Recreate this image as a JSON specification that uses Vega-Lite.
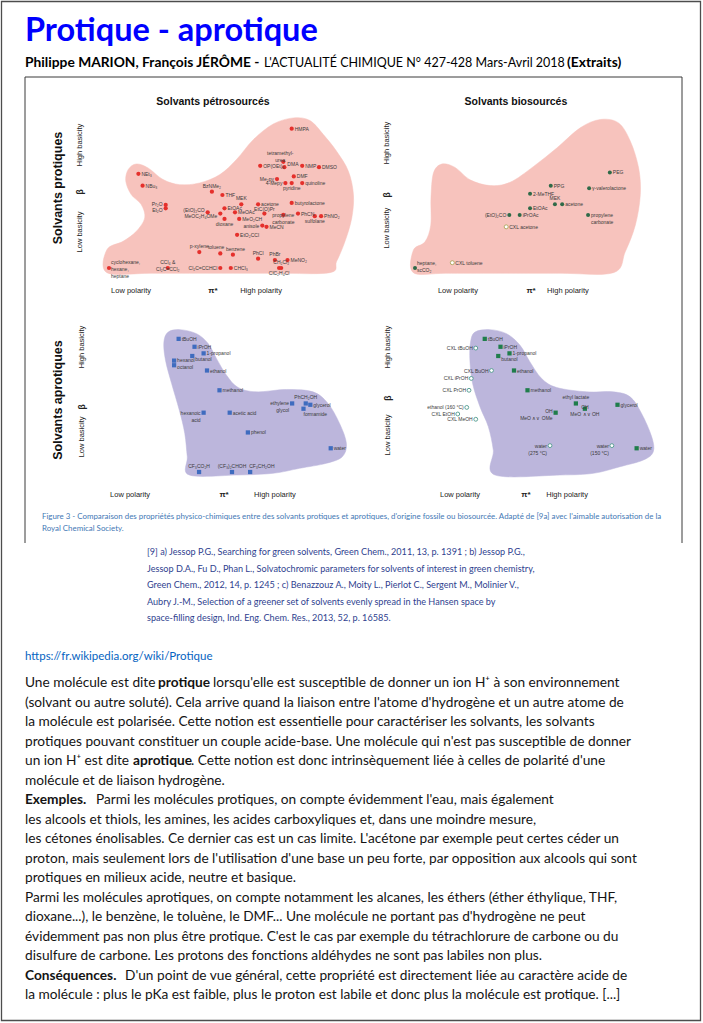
{
"$schema":"https://vega.github.io/schema/vega-lite/v6.json",
"width":703,"height":1023,
"autosize":{"type":"fit","contains":"padding"},
"padding":0,
"background":"#ffffff",
"config":{"view":{"stroke":null},"axis":{"disable":true},"legend":{"disable":true}},
"datasets":{
"page":[
{"role":"title","line":1,"col":0,"text":"Protique - aprotique"},
{"role":"authors","line":2,"col":0,"text":"Philippe MARION, François JÉRÔME -"},
{"role":"journal","line":2,"col":3,"text":"L'ACTUALITÉ CHIMIQUE N° 427-428 Mars-Avril 2018"},
{"role":"note","line":2,"col":4,"text":"(Extraits)"},
{"role":"caption","line":3,"col":1,"text":"Figure 3 - Comparaison des propriétés physico-chimiques entre des solvants protiques et aprotiques, d'origine fossile ou biosourcée. Adapté de [9a] avec l'aimable autorisation de la"},
{"role":"caption","line":4,"col":1,"text":"Royal Chemical Society."},
{"role":"reference","line":5,"col":2,"text":"[9] a) Jessop P.G., Searching for green solvents, Green Chem., 2011, 13, p. 1391 ; b) Jessop P.G.,"},
{"role":"reference","line":6,"col":2,"text":"Jessop D.A., Fu D., Phan L., Solvatochromic parameters for solvents of interest in green chemistry,"},
{"role":"reference","line":7,"col":2,"text":"Green Chem., 2012, 14, p. 1245 ; c) Benazzouz A., Moity L., Pierlot C., Sergent M., Molinier V.,"},
{"role":"reference","line":8,"col":2,"text":"Aubry J.-M., Selection of a greener set of solvents evenly spread in the Hansen space by"},
{"role":"reference","line":9,"col":2,"text":"space-filling design, Ind. Eng. Chem. Res., 2013, 52, p. 16585."},
{"role":"link","line":11,"col":0,"text":"https://fr.wikipedia.org/wiki/Protique"},
{"role":"body","line":13,"col":0,"text":"Une molécule est dite"},
{"role":"emphasis","line":13,"col":5,"text":"protique"},
{"role":"body","line":13,"col":6,"text":"lorsqu'elle est susceptible de donner un ion H⁺ à son environnement"},
{"role":"body","line":14,"col":0,"text":"(solvant ou autre soluté). Cela arrive quand la liaison entre l'atome d'hydrogène et un autre atome de"},
{"role":"body","line":15,"col":0,"text":"la molécule est polarisée. Cette notion est essentielle pour caractériser les solvants, les solvants"},
{"role":"body","line":16,"col":0,"text":"protiques pouvant constituer un couple acide-base. Une molécule qui n'est pas susceptible de donner"},
{"role":"body","line":17,"col":0,"text":"un ion H⁺ est dite"},
{"role":"emphasis","line":17,"col":7,"text":"aprotique"},
{"role":"body","line":17,"col":8,"text":". Cette notion est donc intrinsèquement liée à celles de polarité d'une"},
{"role":"body","line":18,"col":0,"text":"molécule et de liaison hydrogène."},
{"role":"emphasis","line":19,"col":0,"text":"Exemples."},
{"role":"body","line":19,"col":9,"text":"Parmi les molécules protiques, on compte évidemment l'eau, mais également"},
{"role":"body","line":20,"col":0,"text":"les alcools et thiols, les amines, les acides carboxyliques et, dans une moindre mesure,"},
{"role":"body","line":21,"col":0,"text":"les cétones énolisables. Ce dernier cas est un cas limite. L'acétone par exemple peut certes céder un"},
{"role":"body","line":22,"col":0,"text":"proton, mais seulement lors de l'utilisation d'une base un peu forte, par opposition aux alcools qui sont"},
{"role":"body","line":23,"col":0,"text":"protiques en milieux acide, neutre et basique."},
{"role":"body","line":24,"col":0,"text":"Parmi les molécules aprotiques, on compte notamment les alcanes, les éthers (éther éthylique, THF,"},
{"role":"body","line":25,"col":0,"text":"dioxane...), le benzène, le toluène, le DMF... Une molécule ne portant pas d'hydrogène ne peut"},
{"role":"body","line":26,"col":0,"text":"évidemment pas non plus être protique. C'est le cas par exemple du tétrachlorure de carbone ou du"},
{"role":"body","line":27,"col":0,"text":"disulfure de carbone. Les protons des fonctions aldéhydes ne sont pas labiles non plus."},
{"role":"emphasis","line":28,"col":0,"text":"Conséquences."},
{"role":"body","line":28,"col":10,"text":"D'un point de vue général, cette propriété est directement liée au caractère acide de"},
{"role":"body","line":29,"col":0,"text":"la molécule : plus le pKa est faible, plus le proton est labile et donc plus la molécule est protique. [...]"}
],
"ticks":[{"t":0},{"t":0.1},{"t":0.2},{"t":0.3},{"t":0.4},{"t":0.5},{"t":0.6},{"t":0.7},{"t":0.8},{"t":0.9},{"t":1},{"t":1.1}],
"annot":[
{"panel":"P1","text":"Solvants pétrosourcés","pi":0.495,"beta":1.251},
{"panel":"P1","text":"Solvants protiques","pi":-0.243,"beta":0.603},
{"panel":"P1","text":"High basicity","pi":-0.138,"beta":0.927},
{"panel":"P1","text":"β","pi":-0.138,"beta":0.573},
{"panel":"P1","text":"Low basicity","pi":-0.138,"beta":0.271},
{"panel":"P1","text":"Low polarity","pi":0.105,"beta":-0.173},
{"panel":"P1","text":"π*","pi":0.495,"beta":-0.173},
{"panel":"P1","text":"High polarity","pi":0.724,"beta":-0.173},
{"panel":"P2","text":"Solvants biosourcés","pi":0.487,"beta":1.251},
{"panel":"P2","text":"High basicity","pi":-0.135,"beta":0.942},
{"panel":"P2","text":"β","pi":-0.135,"beta":0.55},
{"panel":"P2","text":"Low basicity","pi":-0.135,"beta":0.30},
{"panel":"P2","text":"Low polarity","pi":0.207,"beta":-0.173},
{"panel":"P2","text":"π*","pi":0.56,"beta":-0.173},
{"panel":"P2","text":"High polarity","pi":0.738,"beta":-0.173},
{"panel":"P3","text":"Solvants aprotiques","pi":-0.111,"beta":0.546},
{"panel":"P3","text":"High basicity","pi":-0.006,"beta":0.948},
{"panel":"P3","text":"β","pi":-0.006,"beta":0.493},
{"panel":"P3","text":"Low basicity","pi":-0.006,"beta":0.266},
{"panel":"P3","text":"Low polarity","pi":0.206,"beta":-0.175},
{"panel":"P3","text":"π*","pi":0.62,"beta":-0.175},
{"panel":"P3","text":"High polarity","pi":0.844,"beta":-0.175},
{"panel":"P4","text":"High basicity","pi":-0.02,"beta":0.948},
{"panel":"P4","text":"β","pi":-0.02,"beta":0.561},
{"panel":"P4","text":"Low basicity","pi":-0.02,"beta":0.281},
{"panel":"P4","text":"Low polarity","pi":0.3,"beta":-0.175},
{"panel":"P4","text":"π*","pi":0.593,"beta":-0.175},
{"panel":"P4","text":"High polarity","pi":0.776,"beta":-0.175}
],
"blobs":[
{"panel":"P1","i":1,"pi":-0.01,"beta":-0.035},{"panel":"P1","i":2,"pi":-0.01,"beta":0.138},{"panel":"P1","i":3,"pi":0.067,"beta":0.201},{"panel":"P1","i":4,"pi":0.13,"beta":0.276},{"panel":"P1","i":5,"pi":0.17,"beta":0.377},{"panel":"P1","i":6,"pi":0.154,"beta":0.477},{"panel":"P1","i":7,"pi":0.106,"beta":0.553},{"panel":"P1","i":8,"pi":0.08,"beta":0.653},{"panel":"P1","i":9,"pi":0.091,"beta":0.741},{"panel":"P1","i":10,"pi":0.13,"beta":0.784},{"panel":"P1","i":11,"pi":0.186,"beta":0.754},{"panel":"P1","i":12,"pi":0.258,"beta":0.666},{"panel":"P1","i":13,"pi":0.337,"beta":0.628},{"panel":"P1","i":14,"pi":0.432,"beta":0.641},{"panel":"P1","i":15,"pi":0.528,"beta":0.704},{"panel":"P1","i":16,"pi":0.607,"beta":0.817},{"panel":"P1","i":17,"pi":0.687,"beta":0.967},{"panel":"P1","i":18,"pi":0.782,"beta":1.085},{"panel":"P1","i":19,"pi":0.878,"beta":1.131},{"panel":"P1","i":20,"pi":0.957,"beta":1.111},{"panel":"P1","i":21,"pi":1.021,"beta":1.005},{"panel":"P1","i":22,"pi":1.084,"beta":0.879},{"panel":"P1","i":23,"pi":1.14,"beta":0.729},{"panel":"P1","i":24,"pi":1.164,"beta":0.553},{"panel":"P1","i":25,"pi":1.156,"beta":0.377},{"panel":"P1","i":26,"pi":1.124,"beta":0.201},{"panel":"P1","i":27,"pi":1.084,"beta":0.05},{"panel":"P1","i":28,"pi":1.052,"beta":-0.035},{"panel":"P1","i":29,"pi":0.8,"beta":-0.04},{"panel":"P1","i":30,"pi":0.5,"beta":-0.04},{"panel":"P1","i":31,"pi":0.2,"beta":-0.04},
{"panel":"P2","i":1,"pi":-0.008,"beta":-0.035},{"panel":"P2","i":2,"pi":-0.008,"beta":0.134},{"panel":"P2","i":3,"pi":0.048,"beta":0.197},{"panel":"P2","i":4,"pi":0.076,"beta":0.323},{"panel":"P2","i":5,"pi":0.077,"beta":0.525},{"panel":"P2","i":6,"pi":0.089,"beta":0.715},{"panel":"P2","i":7,"pi":0.129,"beta":0.783},{"panel":"P2","i":8,"pi":0.193,"beta":0.758},{"panel":"P2","i":9,"pi":0.266,"beta":0.664},{"panel":"P2","i":10,"pi":0.362,"beta":0.621},{"panel":"P2","i":11,"pi":0.459,"beta":0.646},{"panel":"P2","i":12,"pi":0.572,"beta":0.765},{"panel":"P2","i":13,"pi":0.684,"beta":0.904},{"panel":"P2","i":14,"pi":0.797,"beta":1.056},{"panel":"P2","i":15,"pi":0.894,"beta":1.119},{"panel":"P2","i":16,"pi":0.982,"beta":1.093},{"panel":"P2","i":17,"pi":1.039,"beta":0.955},{"panel":"P2","i":18,"pi":1.079,"beta":0.753},{"panel":"P2","i":19,"pi":1.087,"beta":0.551},{"panel":"P2","i":20,"pi":1.063,"beta":0.323},{"panel":"P2","i":21,"pi":1.014,"beta":0.121},{"panel":"P2","i":22,"pi":0.958,"beta":-0.035},{"panel":"P2","i":23,"pi":0.7,"beta":-0.04},{"panel":"P2","i":24,"pi":0.4,"beta":-0.04},{"panel":"P2","i":25,"pi":0.15,"beta":-0.04},
{"panel":"P3","i":1,"pi":0.374,"beta":1.062},{"panel":"P3","i":2,"pi":0.426,"beta":1.08},{"panel":"P3","i":3,"pi":0.499,"beta":1.049},{"panel":"P3","i":4,"pi":0.55,"beta":0.974},{"panel":"P3","i":5,"pi":0.587,"beta":0.86},{"panel":"P3","i":6,"pi":0.631,"beta":0.734},{"panel":"P3","i":7,"pi":0.682,"beta":0.641},{"panel":"P3","i":8,"pi":0.763,"beta":0.608},{"panel":"P3","i":9,"pi":0.895,"beta":0.626},{"panel":"P3","i":10,"pi":1.012,"beta":0.608},{"panel":"P3","i":11,"pi":1.078,"beta":0.52},{"panel":"P3","i":12,"pi":1.129,"beta":0.368},{"panel":"P3","i":13,"pi":1.159,"beta":0.217},{"panel":"P3","i":14,"pi":1.141,"beta":0.116},{"panel":"P3","i":15,"pi":1.071,"beta":0.066},{"panel":"P3","i":16,"pi":0.953,"beta":0.028},{"panel":"P3","i":17,"pi":0.836,"beta":-0.01},{"panel":"P3","i":18,"pi":0.675,"beta":-0.023},{"panel":"P3","i":19,"pi":0.467,"beta":-0.023},{"panel":"P3","i":20,"pi":0.458,"beta":0.116},{"panel":"P3","i":21,"pi":0.447,"beta":0.293},{"panel":"P3","i":22,"pi":0.423,"beta":0.469},{"panel":"P3","i":23,"pi":0.389,"beta":0.671},{"panel":"P3","i":24,"pi":0.362,"beta":0.848},{"panel":"P3","i":25,"pi":0.355,"beta":0.986},
{"panel":"P4","i":1,"pi":0.367,"beta":1.062},{"panel":"P4","i":2,"pi":0.433,"beta":1.08},{"panel":"P4","i":3,"pi":0.507,"beta":1.049},{"panel":"P4","i":4,"pi":0.567,"beta":0.961},{"panel":"P4","i":5,"pi":0.611,"beta":0.835},{"panel":"P4","i":6,"pi":0.663,"beta":0.709},{"panel":"P4","i":7,"pi":0.73,"beta":0.641},{"panel":"P4","i":8,"pi":0.863,"beta":0.608},{"panel":"P4","i":9,"pi":0.981,"beta":0.608},{"panel":"P4","i":10,"pi":1.056,"beta":0.57},{"panel":"P4","i":11,"pi":1.107,"beta":0.444},{"panel":"P4","i":12,"pi":1.152,"beta":0.267},{"panel":"P4","i":13,"pi":1.159,"beta":0.154},{"panel":"P4","i":14,"pi":1.115,"beta":0.091},{"panel":"P4","i":15,"pi":1.011,"beta":0.04},{"panel":"P4","i":16,"pi":0.893,"beta":-0.01},{"panel":"P4","i":17,"pi":0.744,"beta":-0.023},{"panel":"P4","i":18,"pi":0.456,"beta":-0.023},{"panel":"P4","i":19,"pi":0.448,"beta":0.166},{"panel":"P4","i":20,"pi":0.426,"beta":0.343},{"panel":"P4","i":21,"pi":0.389,"beta":0.494},{"panel":"P4","i":22,"pi":0.356,"beta":0.671},{"panel":"P4","i":23,"pi":0.344,"beta":0.848},{"panel":"P4","i":24,"pi":0.347,"beta":0.986}
],
"petro1":[
{"name":"HMPA","pi":0.87,"beta":1.05},
{"name":"tetramethyl-\nurea","pi":0.83,"beta":0.80},
{"name":"OP(OEt)₃","pi":0.72,"beta":0.77},
{"name":"DMA","pi":0.835,"beta":0.76},
{"name":"NMP","pi":0.92,"beta":0.77},
{"name":"DMSO","pi":1.0,"beta":0.76},
{"name":"DMF","pi":0.88,"beta":0.69},
{"name":"Me₂py","pi":0.80,"beta":0.67},
{"name":"4-Mepy","pi":0.84,"beta":0.64},
{"name":"pyridine","pi":0.87,"beta":0.64},
{"name":"quinoline","pi":0.92,"beta":0.64},
{"name":"NEt₃","pi":0.14,"beta":0.71},
{"name":"NBu₃","pi":0.16,"beta":0.62},
{"name":"BzNMe₂","pi":0.49,"beta":0.575},
{"name":"THF","pi":0.54,"beta":0.55},
{"name":"Pr₂O","pi":0.27,"beta":0.475},
{"name":"Et₂O","pi":0.27,"beta":0.45},
{"name":"EtOAc","pi":0.55,"beta":0.45},
{"name":"MEK","pi":0.63,"beta":0.48},
{"name":"acetone","pi":0.71,"beta":0.48},
{"name":"butyrolactone","pi":0.87,"beta":0.49},
{"name":"(EtO)₂CO","pi":0.47,"beta":0.42},
{"name":"MeOC₂H₄OMe","pi":0.53,"beta":0.41},
{"name":"dioxane","pi":0.55,"beta":0.37},
{"name":"MeOAc","pi":0.60,"beta":0.42},
{"name":"EtC(O)Pr","pi":0.74,"beta":0.41},
{"name":"propylene\ncarbonate","pi":0.83,"beta":0.40},
{"name":"PhCN","pi":0.90,"beta":0.41},
{"name":"sulfolane","pi":0.98,"beta":0.39},
{"name":"PhNO₂","pi":1.01,"beta":0.39},
{"name":"MeO₂CH","pi":0.62,"beta":0.37},
{"name":"anisole","pi":0.73,"beta":0.32},
{"name":"MeCN","pi":0.75,"beta":0.31},
{"name":"EtO₂CCl","pi":0.61,"beta":0.25},
{"name":"p-xylene","pi":0.43,"beta":0.12},
{"name":"toluene","pi":0.53,"beta":0.11},
{"name":"benzene","pi":0.59,"beta":0.10},
{"name":"PhCl","pi":0.71,"beta":0.07},
{"name":"PhBr","pi":0.79,"beta":0.06},
{"name":"MeNO₂","pi":0.85,"beta":0.06},
{"name":"CH₂Cl₂","pi":0.82,"beta":0.0},
{"name":"ClC₂H₄Cl","pi":0.81,"beta":0.0},
{"name":"cyclohexane,\nhexane,\nheptane","pi":0.0,"beta":0.0},
{"name":"CCl₄ &\nCl₂C=CCl₂","pi":0.28,"beta":0.0},
{"name":"Cl₂C=CCHCl","pi":0.53,"beta":0.0},
{"name":"CHCl₃","pi":0.58,"beta":0.0}
],
"bio1":[
{"name":"PEG","pi":0.94,"beta":0.72,"state":"ambient"},
{"name":"γ-valerolactone","pi":0.84,"beta":0.60,"state":"ambient"},
{"name":"PPG","pi":0.655,"beta":0.62,"state":"ambient"},
{"name":"2-MeTHF","pi":0.555,"beta":0.56,"state":"ambient"},
{"name":"MEK","pi":0.675,"beta":0.48,"state":"ambient"},
{"name":"acetone","pi":0.71,"beta":0.48,"state":"ambient"},
{"name":"EtOAc","pi":0.555,"beta":0.45,"state":"ambient"},
{"name":"(EtO)₂CO","pi":0.455,"beta":0.40,"state":"ambient"},
{"name":"iPrOAc","pi":0.505,"beta":0.40,"state":"ambient"},
{"name":"propylene\ncarbonate","pi":0.835,"beta":0.40,"state":"ambient"},
{"name":"CXL acetone","pi":0.44,"beta":0.31,"state":"modified"},
{"name":"CXL toluene","pi":0.18,"beta":0.04,"state":"modified"},
{"name":"heptane,\nscCO₂","pi":0.0,"beta":0.0,"state":"ambient"}
],
"petro2":[
{"name":"tBuOH","pi":0.42,"beta":1.01},
{"name":"iPrOH","pi":0.49,"beta":0.95},
{"name":"1-propanol","pi":0.53,"beta":0.90},
{"name":"butanol","pi":0.48,"beta":0.88},
{"name":"hexanol","pi":0.40,"beta":0.845},
{"name":"octanol","pi":0.40,"beta":0.81},
{"name":"ethanol","pi":0.545,"beta":0.77},
{"name":"methanol","pi":0.60,"beta":0.62},
{"name":"hexanoic\nacid","pi":0.53,"beta":0.45},
{"name":"acetic acid","pi":0.645,"beta":0.45},
{"name":"ethylene\nglycol","pi":0.92,"beta":0.52},
{"name":"PhCH₂OH","pi":0.98,"beta":0.52},
{"name":"glycerol","pi":1.0,"beta":0.51},
{"name":"formamide","pi":0.97,"beta":0.48},
{"name":"phenol","pi":0.725,"beta":0.30},
{"name":"water","pi":1.09,"beta":0.18},
{"name":"CF₃CO₂H","pi":0.51,"beta":0.0},
{"name":"(CF₃)₂CHOH","pi":0.655,"beta":0.0},
{"name":"CF₃CH₂OH","pi":0.735,"beta":0.0}
],
"bio2":[
{"name":"tBuOH","pi":0.41,"beta":1.01,"state":"ambient"},
{"name":"iPrOH","pi":0.48,"beta":0.95,"state":"ambient"},
{"name":"1-propanol","pi":0.52,"beta":0.90,"state":"ambient"},
{"name":"butanol","pi":0.47,"beta":0.88,"state":"ambient"},
{"name":"ethanol","pi":0.54,"beta":0.77,"state":"ambient"},
{"name":"methanol","pi":0.60,"beta":0.62,"state":"ambient"},
{"name":"ethyl lactate","pi":0.815,"beta":0.52,"state":"ambient"},
{"name":"OH\nMeO ∧∨ OMe","pi":0.725,"beta":0.45,"state":"ambient"},
{"name":"OH\nMeO ∧∨ OH","pi":0.855,"beta":0.48,"state":"ambient"},
{"name":"glycerol","pi":1.0,"beta":0.51,"state":"ambient"},
{"name":"water","pi":1.085,"beta":0.18,"state":"ambient"},
{"name":"water\n(275 °C)","pi":0.70,"beta":0.20,"state":"modified"},
{"name":"water\n(150 °C)","pi":0.975,"beta":0.20,"state":"modified"},
{"name":"CXL tBuOH","pi":0.37,"beta":0.94,"state":"modified"},
{"name":"CXL BuOH","pi":0.44,"beta":0.77,"state":"modified"},
{"name":"CXL iPrOH","pi":0.35,"beta":0.71,"state":"modified"},
{"name":"CXL PrOH","pi":0.34,"beta":0.62,"state":"modified"},
{"name":"ethanol (160 °C)","pi":0.33,"beta":0.49,"state":"modified"},
{"name":"CXL EtOH","pi":0.29,"beta":0.44,"state":"modified"},
{"name":"CXL MeOH","pi":0.37,"beta":0.40,"state":"modified"}
]
},
"layer":[
{"data":{"values":[{}]},"mark":{"type":"rect","filled":false,"stroke":"#4d4d4d","strokeWidth":1.3},
 "encoding":{"x":{"datum":0,"type":"quantitative","scale":{"domain":[0,1],"range":[1.5,700.5],"nice":false,"zero":false}},"x2":{"datum":1},
 "y":{"datum":0,"type":"quantitative","scale":{"domain":[0,1],"range":[1.5,1020.5],"nice":false,"zero":false}},"y2":{"datum":1}}},
{"data":{"values":[{}]},
 "encoding":{"x":{"datum":0,"type":"quantitative","scale":{"domain":[0,1],"range":[25,682],"nice":false,"zero":false}},"y":{"datum":0,"type":"quantitative","scale":{"domain":[0,1],"range":[77,543],"nice":false,"zero":false}}},
 "layer":[
  {"mark":{"type":"rule","color":"#3a3a3a","strokeWidth":1},"encoding":{"x2":{"datum":1}}},
  {"mark":{"type":"rule","color":"#3a3a3a","strokeWidth":1},"encoding":{"y2":{"datum":1}}},
  {"mark":{"type":"rule","color":"#3a3a3a","strokeWidth":1},"encoding":{"x":{"datum":1,"type":"quantitative","scale":{"domain":[0,1],"range":[25,682],"nice":false,"zero":false}},"y2":{"datum":1}}}
 ]},
{"data":{"name":"page"},
 "encoding":{
  "x":{"field":"col","type":"quantitative","scale":{"domain":[0,1,2,3,4,5,6,7,8,9,10,11,12,13],"range":[25,42,147,264,567,158,213,133,191,96,125,95,612,209],"nice":false,"zero":false}},
  "y":{"field":"line","type":"quantitative","scale":{"domain":[1,2,3,4,5,9,10,11,12,13,29],"range":[31,63,517,529,552,618,632,657,664,683,995],"nice":false,"zero":false}},
  "text":{"field":"text"}},
 "layer":[
  {"transform":[{"filter":{"field":"role","equal":"title"}}],"mark":{"type":"text","align":"left","baseline":"middle","font":"Lato","fontWeight":"bold","fontSize":32.5,"color":"#0000ff"}},
  {"transform":[{"filter":{"field":"role","oneOf":["authors","note"]}}],"mark":{"type":"text","align":"left","baseline":"middle","font":"Lato","fontWeight":"bold","fontSize":13.8,"color":"#000000"}},
  {"transform":[{"filter":{"field":"role","equal":"journal"}}],"mark":{"type":"text","align":"left","baseline":"middle","font":"Lato","fontSize":12.5,"color":"#000000"}},
  {"transform":[{"filter":{"field":"role","equal":"caption"}}],"mark":{"type":"text","align":"left","baseline":"middle","font":"Lato","fontSize":7.9,"color":"#3f78b5"}},
  {"transform":[{"filter":{"field":"role","equal":"reference"}}],"mark":{"type":"text","align":"left","baseline":"middle","font":"Lato","fontSize":9.1,"color":"#2f3f8f"}},
  {"transform":[{"filter":{"field":"role","equal":"link"}}],"mark":{"type":"text","align":"left","baseline":"middle","font":"Lato","fontSize":11.5,"color":"#0563c1"}},
  {"transform":[{"filter":{"field":"role","equal":"body"}}],"mark":{"type":"text","align":"left","baseline":"middle","font":"Lato","fontSize":13.7,"color":"#141414"}},
  {"transform":[{"filter":{"field":"role","equal":"emphasis"}}],"mark":{"type":"text","align":"left","baseline":"middle","font":"Lato","fontWeight":"bold","fontSize":13.7,"color":"#141414"}},
  {"data":{"values":[{}]},"mark":{"type":"rule","color":"#222222","strokeWidth":1,"strokeDash":[3.5,2]},
   "encoding":{"x":{"datum":11,"type":"quantitative","scale":{"domain":[0,1,2,3,4,5,6,7,8,9,10,11,12,13],"range":[25,42,147,264,567,158,213,133,191,96,125,95,612,209],"nice":false,"zero":false}},"x2":{"datum":12},
   "y":{"datum":10,"type":"quantitative","scale":{"domain":[1,2,3,4,5,9,10,11,12,13,29],"range":[31,63,517,529,552,618,632,657,664,683,995],"nice":false,"zero":false}},"text":null}},
  {"data":{"values":[{}]},"mark":{"type":"rule","color":"#0563c1","strokeWidth":0.9},
   "encoding":{"x":{"datum":0,"type":"quantitative","scale":{"domain":[0,1,2,3,4,5,6,7,8,9,10,11,12,13],"range":[25,42,147,264,567,158,213,133,191,96,125,95,612,209],"nice":false,"zero":false}},"x2":{"datum":13},
   "y":{"datum":12,"type":"quantitative","scale":{"domain":[1,2,3,4,5,9,10,11,12,13,29],"range":[31,63,517,529,552,618,632,657,664,683,995],"nice":false,"zero":false}},"text":null}}
 ]},
{"encoding":{"x":{"field":"pi","type":"quantitative","scale":{"domain":[0,1.1],"range":[109,340],"nice":false,"zero":false}},
  "y":{"field":"beta","type":"quantitative","scale":{"domain":[0,1.1],"range":[268,122],"nice":false,"zero":false}}},
 "layer":[
  {"data":{"name":"blobs"},"transform":[{"filter":{"field":"panel","equal":"P1"}}],"mark":{"type":"line","interpolate":"cardinal-closed","fill":"#f7c3bd","stroke":"#f7c3bd","strokeWidth":0.5},"encoding":{"order":{"field":"i","type":"quantitative"}}},
  {"data":{"values":[{}]},"mark":{"type":"rule","color":"#6b6b6b","strokeWidth":1},"encoding":{"x":{"datum":0.55,"type":"quantitative","scale":{"domain":[0,1.1],"range":[109,340],"nice":false,"zero":false}},"y":{"datum":0,"type":"quantitative","scale":{"domain":[0,1.1],"range":[268,122],"nice":false,"zero":false}},"y2":{"datum":1.1}}},
  {"data":{"values":[{}]},"mark":{"type":"rule","color":"#6b6b6b","strokeWidth":1},"encoding":{"x":{"datum":0,"type":"quantitative","scale":{"domain":[0,1.1],"range":[109,340],"nice":false,"zero":false}},"x2":{"datum":1.1},"y":{"datum":0.55,"type":"quantitative","scale":{"domain":[0,1.1],"range":[268,122],"nice":false,"zero":false}}}},
  {"data":{"name":"petro1"},"mark":{"type":"point","shape":"circle","filled":true,"size":18,"color":"#e5302c","opacity":1}},
  {"data":{"name":"petro1"},"transform":[{"filter":{"not":{"field":"name","oneOf":["Me₂py","4-Mepy","Pr₂O","Et₂O","(EtO)₂CO","MeOC₂H₄OMe","anisole","Cl₂C=CCHCl","tetramethyl-\nurea","BzNMe₂","MEK","EtC(O)Pr","p-xylene","toluene","benzene","PhCl","PhBr","CH₂Cl₂","CCl₄ &\nCl₂C=CCl₂","pyridine","dioxane","sulfolane","ClC₂H₄Cl","cyclohexane,\nhexane,\nheptane","propylene\ncarbonate","DMA"]}}}],"mark":{"type":"text","align":"left","baseline":"middle","dx":3,"fontSize":5,"font":"Liberation Sans","color":"#3a3a3a","lineBreak":"\n"},"encoding":{"text":{"field":"name"}}},
  {"data":{"name":"petro1"},"transform":[{"filter":{"field":"name","oneOf":["DMA"]}}],"mark":{"type":"text","align":"left","baseline":"middle","dx":3,"dy":-3,"fontSize":5,"font":"Liberation Sans","color":"#3a3a3a"},"encoding":{"text":{"field":"name"}}},
  {"data":{"name":"petro1"},"transform":[{"filter":{"field":"name","oneOf":["tetramethyl-\nurea"]}}],"mark":{"type":"text","align":"center","baseline":"bottom","dx":-3,"dy":-6,"fontSize":5,"font":"Liberation Sans","color":"#3a3a3a","lineBreak":"\n"},"encoding":{"text":{"field":"name"}}},
  {"data":{"name":"petro1"},"transform":[{"filter":{"field":"name","oneOf":["Me₂py","4-Mepy","anisole","Cl₂C=CCHCl"]}}],"mark":{"type":"text","align":"right","baseline":"middle","dx":-3,"fontSize":5,"font":"Liberation Sans","color":"#3a3a3a","lineBreak":"\n"},"encoding":{"text":{"field":"name"}}},
  {"data":{"name":"petro1"},"transform":[{"filter":{"field":"name","oneOf":["Pr₂O"]}}],"mark":{"type":"text","align":"right","baseline":"middle","dx":-3,"dy":-1.3,"fontSize":5,"font":"Liberation Sans","color":"#3a3a3a"},"encoding":{"text":{"field":"name"}}},
  {"data":{"name":"petro1"},"transform":[{"filter":{"field":"name","oneOf":["Et₂O"]}}],"mark":{"type":"text","align":"right","baseline":"middle","dx":-3,"dy":1.5,"fontSize":5,"font":"Liberation Sans","color":"#3a3a3a"},"encoding":{"text":{"field":"name"}}},
  {"data":{"name":"petro1"},"transform":[{"filter":{"field":"name","oneOf":["(EtO)₂CO"]}}],"mark":{"type":"text","align":"right","baseline":"middle","dx":-3,"dy":-2,"fontSize":5,"font":"Liberation Sans","color":"#3a3a3a"},"encoding":{"text":{"field":"name"}}},
  {"data":{"name":"petro1"},"transform":[{"filter":{"field":"name","oneOf":["MeOC₂H₄OMe"]}}],"mark":{"type":"text","align":"right","baseline":"middle","dx":-3,"dy":2.5,"fontSize":5,"font":"Liberation Sans","color":"#3a3a3a"},"encoding":{"text":{"field":"name"}}},
  {"data":{"name":"petro1"},"transform":[{"filter":{"field":"name","oneOf":["EtC(O)Pr"]}}],"mark":{"type":"text","align":"center","baseline":"middle","dy":-4.8,"fontSize":5,"font":"Liberation Sans","color":"#3a3a3a"},"encoding":{"text":{"field":"name"}}},
  {"data":{"name":"petro1"},"transform":[{"filter":{"field":"name","oneOf":["toluene"]}}],"mark":{"type":"text","align":"right","baseline":"bottom","dx":4,"dy":-3,"fontSize":5,"font":"Liberation Sans","color":"#3a3a3a"},"encoding":{"text":{"field":"name"}}},
  {"data":{"name":"petro1"},"transform":[{"filter":{"field":"name","oneOf":["benzene"]}}],"mark":{"type":"text","align":"left","baseline":"bottom","dx":-7,"dy":-3,"fontSize":5,"font":"Liberation Sans","color":"#3a3a3a"},"encoding":{"text":{"field":"name"}}},
  {"data":{"name":"petro1"},"transform":[{"filter":{"field":"name","oneOf":["BzNMe₂","MEK","p-xylene","PhCl","PhBr","CH₂Cl₂","CCl₄ &\nCl₂C=CCl₂"]}}],"mark":{"type":"text","align":"center","baseline":"bottom","dy":-3,"fontSize":5,"font":"Liberation Sans","color":"#3a3a3a","lineBreak":"\n"},"encoding":{"text":{"field":"name"}}},
  {"data":{"name":"petro1"},"transform":[{"filter":{"field":"name","oneOf":["pyridine","dioxane","sulfolane","ClC₂H₄Cl"]}}],"mark":{"type":"text","align":"center","baseline":"top","dy":3,"fontSize":5,"font":"Liberation Sans","color":"#3a3a3a","lineBreak":"\n"},"encoding":{"text":{"field":"name"}}},
  {"data":{"name":"petro1"},"transform":[{"filter":{"field":"name","oneOf":["cyclohexane,\nhexane,\nheptane"]}}],"mark":{"type":"text","align":"left","baseline":"bottom","dx":2,"dy":-3,"fontSize":5,"font":"Liberation Sans","color":"#3a3a3a","lineBreak":"\n"},"encoding":{"text":{"field":"name"}}},
  {"data":{"name":"petro1"},"transform":[{"filter":{"field":"name","oneOf":["propylene\ncarbonate"]}}],"mark":{"type":"text","align":"center","baseline":"middle","fontSize":5,"font":"Liberation Sans","color":"#3a3a3a","lineBreak":"\n"},"encoding":{"text":{"field":"name"}}},
  {"data":{"name":"ticks"},"mark":{"type":"text","align":"center","baseline":"middle","dy":10,"fontSize":7.5,"font":"Liberation Sans","color":"#333333"},"encoding":{"x":{"field":"t","type":"quantitative","scale":{"domain":[0,1.1],"range":[109,340],"nice":false,"zero":false}},"y":{"datum":0,"type":"quantitative","scale":{"domain":[0,1.1],"range":[268,122],"nice":false,"zero":false}},"text":{"field":"t","type":"quantitative","format":"~g"}}},
  {"data":{"name":"ticks"},"mark":{"type":"text","align":"right","baseline":"middle","dx":-4,"fontSize":7.5,"font":"Liberation Sans","color":"#333333"},"encoding":{"y":{"field":"t","type":"quantitative","scale":{"domain":[0,1.1],"range":[268,122],"nice":false,"zero":false}},"x":{"datum":0,"type":"quantitative","scale":{"domain":[0,1.1],"range":[109,340],"nice":false,"zero":false}},"text":{"field":"t","type":"quantitative","format":"~g"}}},
  {"data":{"name":"annot"},"transform":[{"filter":{"field":"panel","equal":"P1"}},{"filter":{"field":"text","oneOf":["Low polarity","High polarity"]}}],"mark":{"type":"text","align":"center","baseline":"middle","fontSize":7.5,"font":"Liberation Sans","color":"#222222"},"encoding":{"text":{"field":"text"}}},
  {"data":{"name":"annot"},"transform":[{"filter":{"field":"panel","equal":"P1"}},{"filter":{"field":"text","oneOf":["π*"]}}],"mark":{"type":"text","align":"center","baseline":"middle","fontSize":8,"fontWeight":"bold","font":"Liberation Sans","color":"#222222"},"encoding":{"text":{"field":"text"}}},
  {"data":{"name":"annot"},"transform":[{"filter":{"field":"panel","equal":"P1"}},{"filter":{"field":"text","oneOf":["High basicity","Low basicity"]}}],"mark":{"type":"text","align":"center","baseline":"middle","angle":270,"fontSize":7.5,"font":"Liberation Sans","color":"#222222"},"encoding":{"text":{"field":"text"}}},
  {"data":{"name":"annot"},"transform":[{"filter":{"field":"panel","equal":"P1"}},{"filter":{"field":"text","oneOf":["β"]}}],"mark":{"type":"text","align":"center","baseline":"middle","angle":270,"fontSize":8.5,"fontWeight":"bold","font":"Liberation Sans","color":"#222222"},"encoding":{"text":{"field":"text"}}},
  {"data":{"name":"annot"},"transform":[{"filter":{"field":"panel","equal":"P1"}},{"filter":{"field":"text","oneOf":["Solvants pétrosourcés"]}}],"mark":{"type":"text","align":"center","baseline":"middle","fontSize":10.5,"fontWeight":"bold","font":"Liberation Sans","color":"#111111"},"encoding":{"text":{"field":"text"}}},
  {"data":{"name":"annot"},"transform":[{"filter":{"field":"panel","equal":"P1"}},{"filter":{"field":"text","oneOf":["Solvants protiques"]}}],"mark":{"type":"text","align":"center","baseline":"middle","angle":270,"fontSize":12.5,"fontWeight":"bold","font":"Liberation Sans","color":"#111111"},"encoding":{"text":{"field":"text"}}}
 ]},
{"encoding":{"x":{"field":"pi","type":"quantitative","scale":{"domain":[0,1.1],"range":[415,643],"nice":false,"zero":false}},
  "y":{"field":"beta","type":"quantitative","scale":{"domain":[0,1.1],"range":[268,122],"nice":false,"zero":false}}},
 "layer":[
  {"data":{"name":"blobs"},"transform":[{"filter":{"field":"panel","equal":"P2"}}],"mark":{"type":"line","interpolate":"cardinal-closed","fill":"#f7c3bd","stroke":"#f7c3bd","strokeWidth":0.5},"encoding":{"order":{"field":"i","type":"quantitative"}}},
  {"data":{"values":[{}]},"mark":{"type":"rule","color":"#6b6b6b","strokeWidth":1},"encoding":{"x":{"datum":0.55,"type":"quantitative","scale":{"domain":[0,1.1],"range":[415,643],"nice":false,"zero":false}},"y":{"datum":0,"type":"quantitative","scale":{"domain":[0,1.1],"range":[268,122],"nice":false,"zero":false}},"y2":{"datum":1.1}}},
  {"data":{"values":[{}]},"mark":{"type":"rule","color":"#6b6b6b","strokeWidth":1},"encoding":{"x":{"datum":0,"type":"quantitative","scale":{"domain":[0,1.1],"range":[415,643],"nice":false,"zero":false}},"x2":{"datum":1.1},"y":{"datum":0.55,"type":"quantitative","scale":{"domain":[0,1.1],"range":[268,122],"nice":false,"zero":false}}}},
  {"data":{"name":"bio1"},"transform":[{"filter":{"field":"state","equal":"ambient"}}],"mark":{"type":"point","shape":"circle","filled":true,"size":16,"color":"#2f6a48","opacity":1}},
  {"data":{"name":"bio1"},"transform":[{"filter":{"field":"state","equal":"modified"}}],"mark":{"type":"point","shape":"circle","filled":true,"size":16,"fill":"#ffffff","stroke":"#aaa55a","strokeWidth":0.9,"opacity":1}},
  {"data":{"name":"bio1"},"transform":[{"filter":{"not":{"field":"name","oneOf":["(EtO)₂CO","MEK","heptane,\nscCO₂"]}}}],"mark":{"type":"text","align":"left","baseline":"middle","dx":3,"fontSize":5,"font":"Liberation Sans","color":"#3a3a3a","lineBreak":"\n"},"encoding":{"text":{"field":"name"}}},
  {"data":{"name":"bio1"},"transform":[{"filter":{"field":"name","oneOf":["(EtO)₂CO"]}}],"mark":{"type":"text","align":"right","baseline":"middle","dx":-3,"fontSize":5,"font":"Liberation Sans","color":"#3a3a3a","lineBreak":"\n"},"encoding":{"text":{"field":"name"}}},
  {"data":{"name":"bio1"},"transform":[{"filter":{"field":"name","oneOf":["MEK"]}}],"mark":{"type":"text","align":"center","baseline":"bottom","dy":-3,"fontSize":5,"font":"Liberation Sans","color":"#3a3a3a","lineBreak":"\n"},"encoding":{"text":{"field":"name"}}},
  {"data":{"name":"bio1"},"transform":[{"filter":{"field":"name","oneOf":["heptane,\nscCO₂"]}}],"mark":{"type":"text","align":"left","baseline":"bottom","dx":2,"dy":-2,"fontSize":5,"font":"Liberation Sans","color":"#3a3a3a","lineBreak":"\n"},"encoding":{"text":{"field":"name"}}},
  {"data":{"name":"ticks"},"mark":{"type":"text","align":"center","baseline":"middle","dy":10,"fontSize":7.5,"font":"Liberation Sans","color":"#333333"},"encoding":{"x":{"field":"t","type":"quantitative","scale":{"domain":[0,1.1],"range":[415,643],"nice":false,"zero":false}},"y":{"datum":0,"type":"quantitative","scale":{"domain":[0,1.1],"range":[268,122],"nice":false,"zero":false}},"text":{"field":"t","type":"quantitative","format":"~g"}}},
  {"data":{"name":"ticks"},"mark":{"type":"text","align":"right","baseline":"middle","dx":-4,"fontSize":7.5,"font":"Liberation Sans","color":"#333333"},"encoding":{"y":{"field":"t","type":"quantitative","scale":{"domain":[0,1.1],"range":[268,122],"nice":false,"zero":false}},"x":{"datum":0,"type":"quantitative","scale":{"domain":[0,1.1],"range":[415,643],"nice":false,"zero":false}},"text":{"field":"t","type":"quantitative","format":"~g"}}},
  {"data":{"name":"annot"},"transform":[{"filter":{"field":"panel","equal":"P2"}},{"filter":{"field":"text","oneOf":["Low polarity","High polarity"]}}],"mark":{"type":"text","align":"center","baseline":"middle","fontSize":7.5,"font":"Liberation Sans","color":"#222222"},"encoding":{"text":{"field":"text"}}},
  {"data":{"name":"annot"},"transform":[{"filter":{"field":"panel","equal":"P2"}},{"filter":{"field":"text","oneOf":["π*"]}}],"mark":{"type":"text","align":"center","baseline":"middle","fontSize":8,"fontWeight":"bold","font":"Liberation Sans","color":"#222222"},"encoding":{"text":{"field":"text"}}},
  {"data":{"name":"annot"},"transform":[{"filter":{"field":"panel","equal":"P2"}},{"filter":{"field":"text","oneOf":["High basicity","Low basicity"]}}],"mark":{"type":"text","align":"center","baseline":"middle","angle":270,"fontSize":7.5,"font":"Liberation Sans","color":"#222222"},"encoding":{"text":{"field":"text"}}},
  {"data":{"name":"annot"},"transform":[{"filter":{"field":"panel","equal":"P2"}},{"filter":{"field":"text","oneOf":["β"]}}],"mark":{"type":"text","align":"center","baseline":"middle","angle":270,"fontSize":8.5,"fontWeight":"bold","font":"Liberation Sans","color":"#222222"},"encoding":{"text":{"field":"text"}}},
  {"data":{"name":"annot"},"transform":[{"filter":{"field":"panel","equal":"P2"}},{"filter":{"field":"text","oneOf":["Solvants biosourcés"]}}],"mark":{"type":"text","align":"center","baseline":"middle","fontSize":10.5,"fontWeight":"bold","font":"Liberation Sans","color":"#111111"},"encoding":{"text":{"field":"text"}}}
 ]},
{"encoding":{"x":{"field":"pi","type":"quantitative","scale":{"domain":[0.1,1.1],"range":[106,333],"nice":false,"zero":false}},
  "y":{"field":"beta","type":"quantitative","scale":{"domain":[0,1.1],"range":[472,327],"nice":false,"zero":false}}},
 "layer":[
  {"data":{"name":"blobs"},"transform":[{"filter":{"field":"panel","equal":"P3"}}],"mark":{"type":"line","interpolate":"cardinal-closed","fill":"#bcb6dc","stroke":"#bcb6dc","strokeWidth":0.5},"encoding":{"order":{"field":"i","type":"quantitative"}}},
  {"data":{"values":[{}]},"mark":{"type":"rule","color":"#6b6b6b","strokeWidth":1},"encoding":{"x":{"datum":0.55,"type":"quantitative","scale":{"domain":[0.1,1.1],"range":[106,333],"nice":false,"zero":false}},"y":{"datum":0,"type":"quantitative","scale":{"domain":[0,1.1],"range":[472,327],"nice":false,"zero":false}},"y2":{"datum":1.1}}},
  {"data":{"values":[{}]},"mark":{"type":"rule","color":"#6b6b6b","strokeWidth":1},"encoding":{"x":{"datum":0.1,"type":"quantitative","scale":{"domain":[0.1,1.1],"range":[106,333],"nice":false,"zero":false}},"x2":{"datum":1.11},"y":{"datum":0.55,"type":"quantitative","scale":{"domain":[0,1.1],"range":[472,327],"nice":false,"zero":false}}}},
  {"data":{"name":"petro2"},"mark":{"type":"point","shape":"square","filled":true,"size":18,"color":"#3f6cbf","opacity":1}},
  {"data":{"name":"petro2"},"transform":[{"filter":{"not":{"field":"name","oneOf":["hexanoic\nacid","ethylene\nglycol","PhCH₂OH","CF₃CO₂H","(CF₃)₂CHOH","CF₃CH₂OH","formamide","hexanol","octanol","butanol"]}}}],"mark":{"type":"text","align":"left","baseline":"middle","dx":3,"fontSize":5,"font":"Liberation Sans","color":"#3a3a3a","lineBreak":"\n"},"encoding":{"text":{"field":"name"}}},
  {"data":{"name":"petro2"},"transform":[{"filter":{"field":"name","oneOf":["butanol"]}}],"mark":{"type":"text","align":"left","baseline":"middle","dx":3,"dy":2.8,"fontSize":5,"font":"Liberation Sans","color":"#3a3a3a"},"encoding":{"text":{"field":"name"}}},
  {"data":{"name":"petro2"},"transform":[{"filter":{"field":"name","oneOf":["hexanol"]}}],"mark":{"type":"text","align":"left","baseline":"middle","dx":3,"dy":-1,"fontSize":5,"font":"Liberation Sans","color":"#3a3a3a"},"encoding":{"text":{"field":"name"}}},
  {"data":{"name":"petro2"},"transform":[{"filter":{"field":"name","oneOf":["octanol"]}}],"mark":{"type":"text","align":"left","baseline":"middle","dx":3,"dy":1.3,"fontSize":5,"font":"Liberation Sans","color":"#3a3a3a"},"encoding":{"text":{"field":"name"}}},
  {"data":{"name":"petro2"},"transform":[{"filter":{"field":"name","oneOf":["hexanoic\nacid","ethylene\nglycol"]}}],"mark":{"type":"text","align":"right","baseline":"middle","dx":-3,"fontSize":5,"font":"Liberation Sans","color":"#3a3a3a","lineBreak":"\n"},"encoding":{"text":{"field":"name"}}},
  {"data":{"name":"petro2"},"transform":[{"filter":{"field":"name","oneOf":["PhCH₂OH","CF₃CO₂H","(CF₃)₂CHOH"]}}],"mark":{"type":"text","align":"center","baseline":"bottom","dy":-3,"fontSize":5,"font":"Liberation Sans","color":"#3a3a3a","lineBreak":"\n"},"encoding":{"text":{"field":"name"}}},
  {"data":{"name":"petro2"},"transform":[{"filter":{"field":"name","oneOf":["CF₃CH₂OH"]}}],"mark":{"type":"text","align":"left","baseline":"bottom","dx":-1,"dy":-3,"fontSize":5,"font":"Liberation Sans","color":"#3a3a3a"},"encoding":{"text":{"field":"name"}}},
  {"data":{"name":"petro2"},"transform":[{"filter":{"field":"name","oneOf":["formamide"]}}],"mark":{"type":"text","align":"left","baseline":"top","dy":3,"fontSize":5,"font":"Liberation Sans","color":"#3a3a3a","lineBreak":"\n"},"encoding":{"text":{"field":"name"}}},
  {"data":{"name":"ticks"},"transform":[{"filter":{"field":"t","gte":0.1}}],"mark":{"type":"text","align":"center","baseline":"middle","dy":11,"fontSize":7.5,"font":"Liberation Sans","color":"#333333"},"encoding":{"x":{"field":"t","type":"quantitative","scale":{"domain":[0.1,1.1],"range":[106,333],"nice":false,"zero":false}},"y":{"datum":0,"type":"quantitative","scale":{"domain":[0,1.1],"range":[472,327],"nice":false,"zero":false}},"text":{"field":"t","type":"quantitative","format":"~g"}}},
  {"data":{"name":"ticks"},"mark":{"type":"text","align":"right","baseline":"middle","dx":-4,"fontSize":7.5,"font":"Liberation Sans","color":"#333333"},"encoding":{"y":{"field":"t","type":"quantitative","scale":{"domain":[0,1.1],"range":[472,327],"nice":false,"zero":false}},"x":{"datum":0.1,"type":"quantitative","scale":{"domain":[0.1,1.1],"range":[106,333],"nice":false,"zero":false}},"text":{"field":"t","type":"quantitative","format":"~g"}}},
  {"data":{"name":"annot"},"transform":[{"filter":{"field":"panel","equal":"P3"}},{"filter":{"field":"text","oneOf":["Low polarity","High polarity"]}}],"mark":{"type":"text","align":"center","baseline":"middle","fontSize":7.5,"font":"Liberation Sans","color":"#222222"},"encoding":{"text":{"field":"text"}}},
  {"data":{"name":"annot"},"transform":[{"filter":{"field":"panel","equal":"P3"}},{"filter":{"field":"text","oneOf":["π*"]}}],"mark":{"type":"text","align":"center","baseline":"middle","fontSize":8,"fontWeight":"bold","font":"Liberation Sans","color":"#222222"},"encoding":{"text":{"field":"text"}}},
  {"data":{"name":"annot"},"transform":[{"filter":{"field":"panel","equal":"P3"}},{"filter":{"field":"text","oneOf":["High basicity","Low basicity"]}}],"mark":{"type":"text","align":"center","baseline":"middle","angle":270,"fontSize":7.5,"font":"Liberation Sans","color":"#222222"},"encoding":{"text":{"field":"text"}}},
  {"data":{"name":"annot"},"transform":[{"filter":{"field":"panel","equal":"P3"}},{"filter":{"field":"text","oneOf":["β"]}}],"mark":{"type":"text","align":"center","baseline":"middle","angle":270,"fontSize":8.5,"fontWeight":"bold","font":"Liberation Sans","color":"#222222"},"encoding":{"text":{"field":"text"}}},
  {"data":{"name":"annot"},"transform":[{"filter":{"field":"panel","equal":"P3"}},{"filter":{"field":"text","oneOf":["Solvants aprotiques"]}}],"mark":{"type":"text","align":"center","baseline":"middle","angle":270,"fontSize":12.5,"fontWeight":"bold","font":"Liberation Sans","color":"#111111"},"encoding":{"text":{"field":"text"}}}
 ]},
{"encoding":{"x":{"field":"pi","type":"quantitative","scale":{"domain":[0.1,1.1],"range":[415,640],"nice":false,"zero":false}},
  "y":{"field":"beta","type":"quantitative","scale":{"domain":[0,1.1],"range":[472,327],"nice":false,"zero":false}}},
 "layer":[
  {"data":{"name":"blobs"},"transform":[{"filter":{"field":"panel","equal":"P4"}}],"mark":{"type":"line","interpolate":"cardinal-closed","fill":"#bcb6dc","stroke":"#bcb6dc","strokeWidth":0.5},"encoding":{"order":{"field":"i","type":"quantitative"}}},
  {"data":{"values":[{}]},"mark":{"type":"rule","color":"#6b6b6b","strokeWidth":1},"encoding":{"x":{"datum":0.55,"type":"quantitative","scale":{"domain":[0.1,1.1],"range":[415,640],"nice":false,"zero":false}},"y":{"datum":0,"type":"quantitative","scale":{"domain":[0,1.1],"range":[472,327],"nice":false,"zero":false}},"y2":{"datum":1.1}}},
  {"data":{"values":[{}]},"mark":{"type":"rule","color":"#6b6b6b","strokeWidth":1},"encoding":{"x":{"datum":0.1,"type":"quantitative","scale":{"domain":[0.1,1.1],"range":[415,640],"nice":false,"zero":false}},"x2":{"datum":1.11},"y":{"datum":0.55,"type":"quantitative","scale":{"domain":[0,1.1],"range":[472,327],"nice":false,"zero":false}}}},
  {"data":{"name":"bio2"},"transform":[{"filter":{"field":"state","equal":"ambient"}}],"mark":{"type":"point","shape":"square","filled":true,"size":18,"color":"#1f7d4b","opacity":1}},
  {"data":{"name":"bio2"},"transform":[{"filter":{"field":"state","equal":"modified"}}],"mark":{"type":"point","shape":"circle","filled":true,"size":15,"fill":"#ffffff","stroke":"#4f9a8c","strokeWidth":0.9,"opacity":1}},
  {"data":{"name":"bio2"},"transform":[{"filter":{"field":"state","equal":"ambient"}},{"filter":{"not":{"field":"name","oneOf":["OH\nMeO ∧∨ OMe","OH\nMeO ∧∨ OH","ethyl lactate","butanol"]}}}],"mark":{"type":"text","align":"left","baseline":"middle","dx":3,"fontSize":5,"font":"Liberation Sans","color":"#3a3a3a","lineBreak":"\n"},"encoding":{"text":{"field":"name"}}},
  {"data":{"name":"bio2"},"transform":[{"filter":{"field":"name","oneOf":["butanol"]}}],"mark":{"type":"text","align":"left","baseline":"middle","dx":3,"dy":2.8,"fontSize":5,"font":"Liberation Sans","color":"#3a3a3a"},"encoding":{"text":{"field":"name"}}},
  {"data":{"name":"bio2"},"transform":[{"filter":{"field":"state","equal":"modified"}}],"mark":{"type":"text","align":"right","baseline":"middle","dx":-3,"fontSize":5,"font":"Liberation Sans","color":"#3a3a3a","lineBreak":"\n"},"encoding":{"text":{"field":"name"}}},
  {"data":{"name":"bio2"},"transform":[{"filter":{"field":"name","oneOf":["OH\nMeO ∧∨ OMe"]}}],"mark":{"type":"text","align":"right","baseline":"middle","dx":-3,"dy":-2,"fontSize":5,"font":"Liberation Sans","color":"#3a3a3a","lineBreak":"\n"},"encoding":{"text":{"field":"name"}}},
  {"data":{"name":"bio2"},"transform":[{"filter":{"field":"name","oneOf":["OH\nMeO ∧∨ OH"]}}],"mark":{"type":"text","align":"center","baseline":"middle","dy":-2,"fontSize":5,"font":"Liberation Sans","color":"#3a3a3a","lineBreak":"\n"},"encoding":{"text":{"field":"name"}}},
  {"data":{"name":"bio2"},"transform":[{"filter":{"field":"name","oneOf":["ethyl lactate"]}}],"mark":{"type":"text","align":"center","baseline":"bottom","dy":-3,"fontSize":5,"font":"Liberation Sans","color":"#3a3a3a","lineBreak":"\n"},"encoding":{"text":{"field":"name"}}},
  {"data":{"name":"ticks"},"transform":[{"filter":{"field":"t","gte":0.1}}],"mark":{"type":"text","align":"center","baseline":"middle","dy":11,"fontSize":7.5,"font":"Liberation Sans","color":"#333333"},"encoding":{"x":{"field":"t","type":"quantitative","scale":{"domain":[0.1,1.1],"range":[415,640],"nice":false,"zero":false}},"y":{"datum":0,"type":"quantitative","scale":{"domain":[0,1.1],"range":[472,327],"nice":false,"zero":false}},"text":{"field":"t","type":"quantitative","format":"~g"}}},
  {"data":{"name":"ticks"},"mark":{"type":"text","align":"right","baseline":"middle","dx":-4,"fontSize":7.5,"font":"Liberation Sans","color":"#333333"},"encoding":{"y":{"field":"t","type":"quantitative","scale":{"domain":[0,1.1],"range":[472,327],"nice":false,"zero":false}},"x":{"datum":0.1,"type":"quantitative","scale":{"domain":[0.1,1.1],"range":[415,640],"nice":false,"zero":false}},"text":{"field":"t","type":"quantitative","format":"~g"}}},
  {"data":{"name":"annot"},"transform":[{"filter":{"field":"panel","equal":"P4"}},{"filter":{"field":"text","oneOf":["Low polarity","High polarity"]}}],"mark":{"type":"text","align":"center","baseline":"middle","fontSize":7.5,"font":"Liberation Sans","color":"#222222"},"encoding":{"text":{"field":"text"}}},
  {"data":{"name":"annot"},"transform":[{"filter":{"field":"panel","equal":"P4"}},{"filter":{"field":"text","oneOf":["π*"]}}],"mark":{"type":"text","align":"center","baseline":"middle","fontSize":8,"fontWeight":"bold","font":"Liberation Sans","color":"#222222"},"encoding":{"text":{"field":"text"}}},
  {"data":{"name":"annot"},"transform":[{"filter":{"field":"panel","equal":"P4"}},{"filter":{"field":"text","oneOf":["High basicity","Low basicity"]}}],"mark":{"type":"text","align":"center","baseline":"middle","angle":270,"fontSize":7.5,"font":"Liberation Sans","color":"#222222"},"encoding":{"text":{"field":"text"}}},
  {"data":{"name":"annot"},"transform":[{"filter":{"field":"panel","equal":"P4"}},{"filter":{"field":"text","oneOf":["β"]}}],"mark":{"type":"text","align":"center","baseline":"middle","angle":270,"fontSize":8.5,"fontWeight":"bold","font":"Liberation Sans","color":"#222222"},"encoding":{"text":{"field":"text"}}}
 ]}
],
"resolve":{"scale":{"x":"independent","y":"independent"}}
}
